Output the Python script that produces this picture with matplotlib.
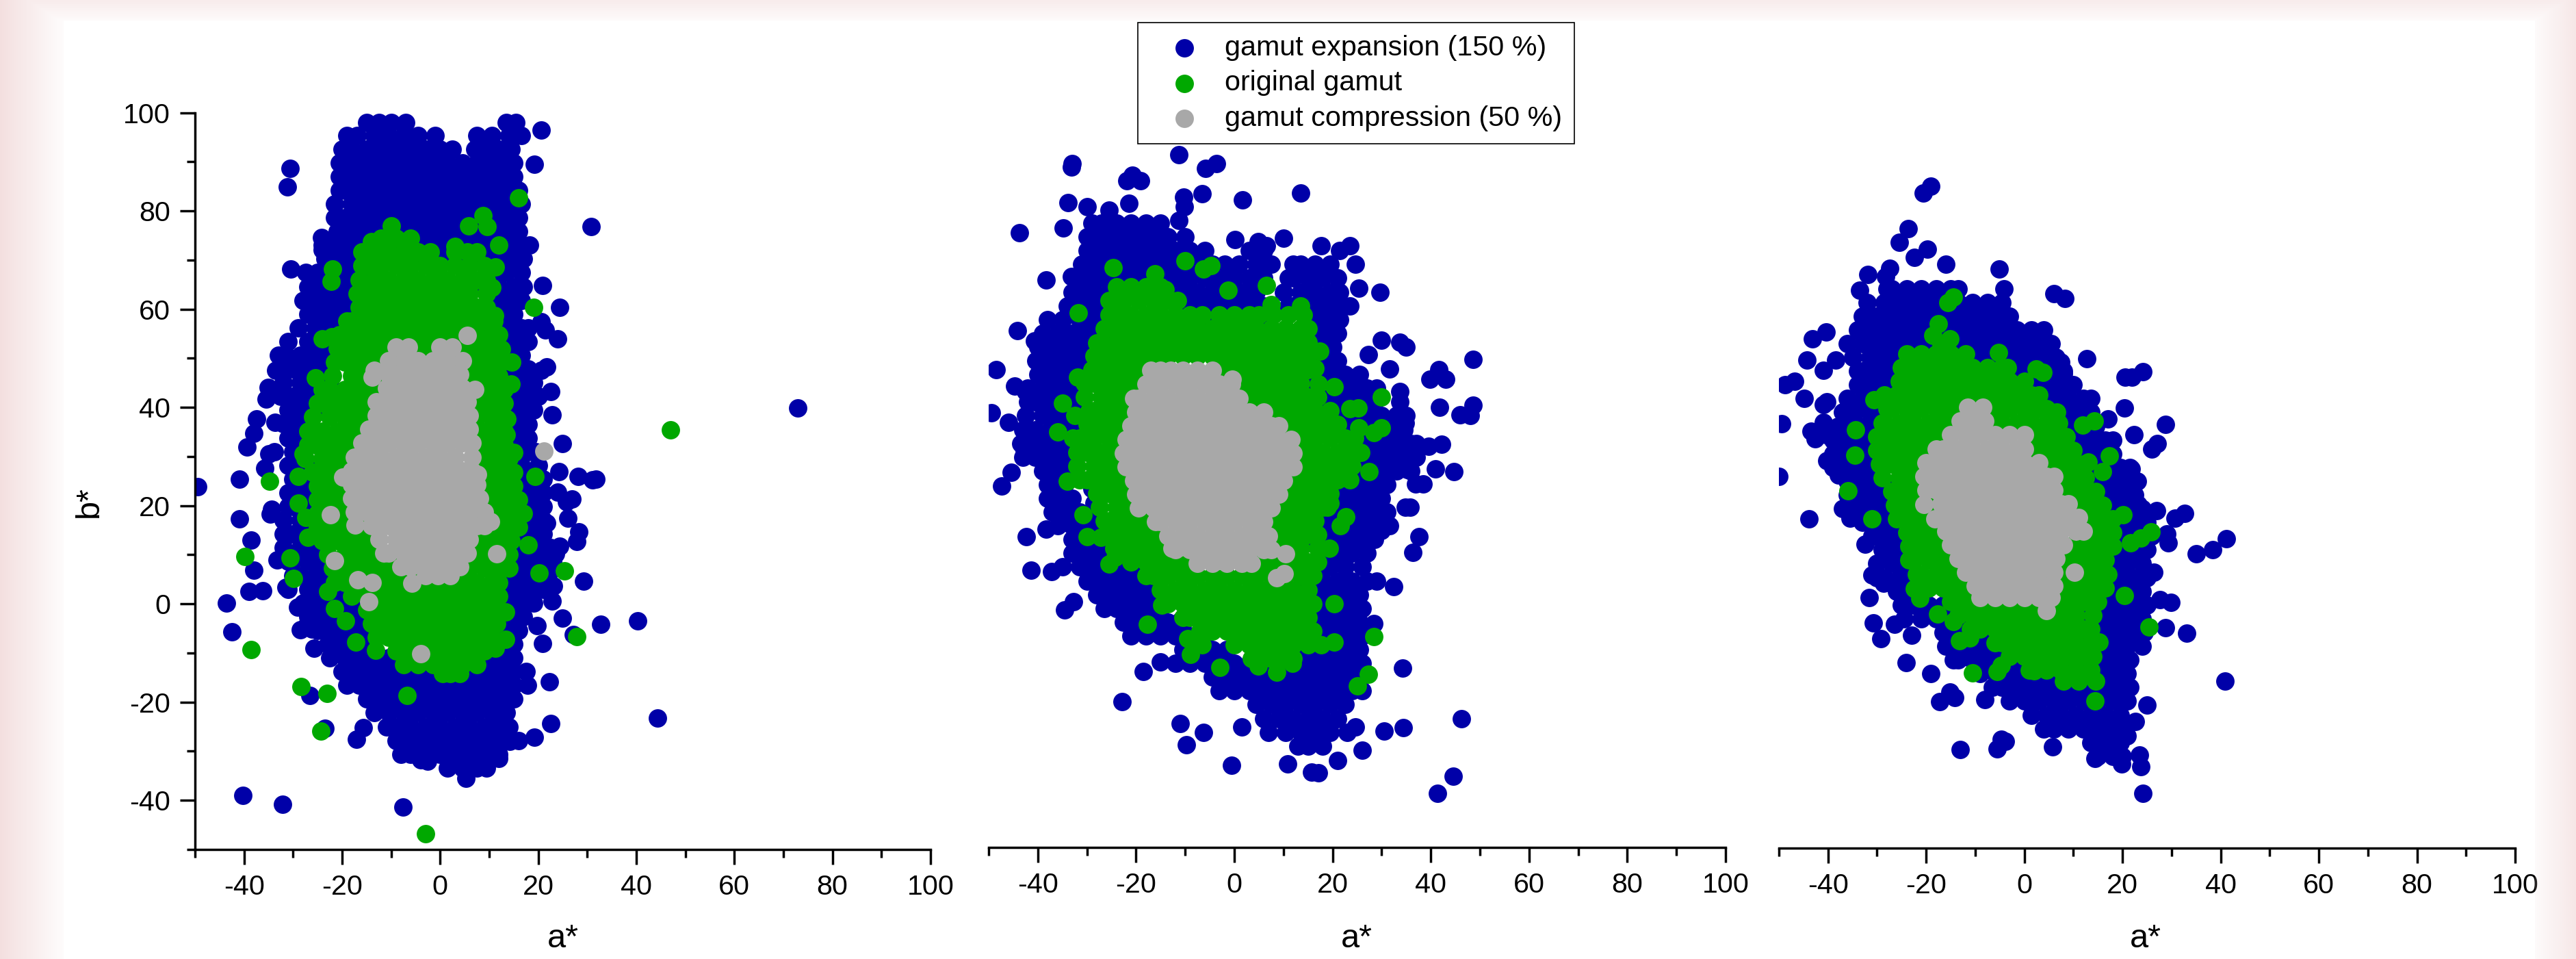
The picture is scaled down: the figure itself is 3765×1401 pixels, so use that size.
import numpy as np
import matplotlib
matplotlib.use("Agg")
import matplotlib.pyplot as plt
from matplotlib.colors import to_rgb
from matplotlib.ticker import MultipleLocator, FixedLocator

plt.rcParams['font.family'] = ['Liberation Sans', 'DejaVu Sans']

W, H = 3765, 1401
LABELS = ["gamut expansion (150 %)", "original gamut", "gamut compression (50 %)"]
COLORS = ["#0000A8", "#00A800", "#A8A8A8"]
X_TICKS = [-40, -20, 0, 20, 40, 60, 80, 100]
Y_TICKS = [-40, -20, 0, 20, 40, 60, 80, 100]

# ---- Panel 1 -------------------------------------------------------------
EXP1_ROWS = {
98: [-15,-12.5,-10,-7,13.5,15.5],
95.4: [-19,-17,-13.5,-10.5,-7.5,-4.5,-1,7.5,10.5,14,16.5],
92.6: [-20,-18,-15,-12,-9,-6,-3,0,2.5,7,9,12,14.5],
89.8: [-20.5,-19.5,-16.5,-13.5,-10.5,-7.5,-4.5,-1.5,1.5,4.5,7.5,10.5,13.5,15],
87: [-20.5,-18,-15,-12,-9,-6,-3,0,3,6,9,12,15],
84.2: [-20.5,-19.5,-16.5,-13.5,-10.5,-7.5,-4.5,-1.5,1.5,4.5,7.5,10.5,13.5,16],
81.4: [-21.5,-18,-15,-12,-9,-6,-3,0,3,6,9,12,15,16.5],
78.6: [-21.5,-19.5,-16.5,-13.5,-10.5,-7.5,-4.5,-1.5,1.5,4.5,7.5,10.5,13.5,16],
75.8: [-21,-18,-15,-12,-9,-6,-3,0,3,6,9,12,15,16],
73: [-24,-22.5,-19.5,-16.5,-13.5,-10.5,-7.5,-4.5,-1.5,1.5,4.5,7.5,10.5,13.5,16.5,18.3],
70.2: [-23.5,-21,-18,-15,-12,-9,-6,-3,0,3,6,9,12,15,17],
67.4: [-25,-22.5,-19.5,-16.5,10.5,13.5,16.5],
64.6: [-27,-24,-21,-18,9,12,15,17],
61.8: [-28,-25.5,-22.5,-19.5,10.5,13.5,16.5],
59: [-27,-24,-21,-18,12,15],
56.2: [-29,-25.5,-22.5,-19.5,10.5,13.5,16.5,18],
53.4: [-31,-27,-24,-21,12,15,18],
50.6: [-33,-31.5,-28.5,-25.5,-22.5,13.5,16.5],
47.8: [-33,-30,-27,-24,12,15,18],
45: [-32,-28.5,-25.5,-22.5,13.5,16.5,19],
42.2: [-32.6,-30,-27,-24,12,15,18,20],
39.4: [-31,-28.5,-25.5,13.5,16.5,19],
36.6: [-31,-30,-27,15,18],
33.8: [-31,-28.5,13.5,16.5,18],
31: [-30,-28,15,18,19.5],
28.2: [-31,-28.5,-27,13.5,16.5,20],
25.4: [-30,-27,15,18,21],
22.6: [-31,-28.5,-25.5,16.5,19.5,21],
19.8: [-31,-30,-27,18,21],
17: [-32,-28.5,-25.5,16.5,19.5,21],
14.2: [-32,-30,-27,-24,15,18,21],
11.4: [-32,-28.5,-25.5,13.5,16.5,19.5,22.5,24],
8.6: [-31,-30,-27,-24,-21,12,15,18,21,23],
5.8: [-30,-28.5,-25.5,-22.5,-19.5,13.5,16.5,19.5,22],
3: [-31,-27,-24,-21,-18,12,15,18,21],
0.2: [-28,-25.5,-22.5,-19.5,-16.5,13.5,16.5,19],
-2.6: [-27,-24,-21,-18,-15,12,15,17],
-5.4: [-25,-22.5,-19.5,-16.5,-13.5,13.5,16],
-8.2: [-23,-21,-18,-15,12,15],
-11: [-22.5,-19.5,-16.5,-13.5,-10.5,-7.5,10.5,13.5,15],
-13.8: [-20,-18,-15,-12,-9,-6,-3,0,3,6,9,12,15],
-16.6: [-19,-16.5,-13.5,-10.5,-7.5,-4.5,-1.5,1.5,4.5,7.5,10.5,13.5,15],
-19.4: [-15,-12,-9,-6,-3,0,3,6,9,12,15],
-22.2: [-13.5,-10.5,-7.5,-4.5,-1.5,1.5,4.5,7.5,10.5,13.5],
-25: [-11,-9,-6,-3,0,3,6,9,12,14],
-27.8: [-9,-7.5,-4.5,-1.5,1.5,4.5,7.5,10.5,13.5,14],
-30.6: [-8,-6,-3,0,3,6,9,12],
-33.4: [1.5,4.5,7.5,9.5],
-35.5: [5.2],
}
EXP1_SINGLE = [(-49.4,23.8),(-30.6,88.7),(-31.1,84.9),(30.8,76.8),(72.9,39.9),(20.6,96.4),(19.2,89.5),
(20.9,64.8),(24.4,60.4),(24,54),(21.4,55.7),(20.6,57.5),(21.7,48.2),(20.6,47.6),(22.5,43.2),(22.8,38.5),
(24.9,32.6),(24.3,26.9),(28.1,26),(31,25.2),(31.8,25.4),(24,22.7),(26.9,21.4),(25.8,20.8),(26.1,17.4),
(21.7,16.4),(28.3,14.6),(27.9,12.7),(24.4,11.7),(21.2,10.2),(23.5,10.2),(29.2,4.6),(23.1,3.6),(22.9,0.6),
(24.9,-2.9),(19.7,-4.4),(20.9,-8.1),(32.7,-4.1),(40.3,-3.4),(27.2,-6.2),(22.3,-15.8),(17.8,-16.5),
(17.5,-13.8),(22.5,-24.3),(19.2,-27.1),(44.3,-23.2),(-40.9,25.4),(-41,17.3),(-38.6,13),(-38,6.8),(-39,2.6),
(-36.2,2.7),(-43.6,0.2),(-42.4,-5.7),(-40.2,-39),(-32.1,-40.8),(-7.6,-41.3),(-26.6,-18.6),(-23.5,-25.3),
(-15.7,-25.2),(-17.1,-27.5),(-25.7,-9.1),(-29.1,-0.7),(-28.5,-5.3),(-27.3,-4.4),(-26.2,-5.1),(-31.4,3.4),
(-33.2,9),(-34.4,19.3),(-34.6,18.3),(-31.2,14),(-35.7,27.6),(-39.4,32),(-38,34.7),(-37.5,37.6),(-35.5,41.7),
(-35.1,44.1),(-35.0,30.6),(-33.8,31),(-33.5,47.6),(-33.7,36.9),(-32,36.7),(-24.2,74.6),(-24,72),(-30.5,68.1),
(-27.4,67.5),(-25,65),(-2.5,-32),(12,-31.5),(-4,-31.8),(14.2,-28),(16,-27.9),
(-23,52),(-23.5,49),(-24.5,47),(-25.5,44),(-27,41),(-28,38),(-28.5,35),(-29,32),(-28.5,29),(-27,26),(-27,23),
(-27,20),(-27,17),(-26,14),(11,57),(12,52),(12.5,47),(13.5,42),(14,38),(14,35),(14,32),(15,28),(15.5,25),(16,21),
(17.5,17),(15.5,13),(14.5,9),(13,6)]
ORIG1_ROWS = {
74.4: [-12,-9,-6],
71.6: [-16,-13.5,-10.5,-7.5,-4.5,-2,3,5.5,7.5],
68.8: [-16,-15,-12,-9,-6,-3,0,3,6,9],
66: [-16.5,-13.5,-10.5,-7.5,-4.5,-1.5,1.5,4.5,7.5,9.5],
63.2: [-17,-15,-12,-9,-6,-3,0,3,6,9.5],
60.4: [-16.5,-13.5,-10.5,-7.5,-4.5,-1.5,1.5,4.5,7.5,9.5],
57.6: [-19,-18,-15,-12,-9,-6,-3,0,3,6,9,11],
54.8: [-20.5,-19.5,-16.5,-13.5,-10.5,-7.5,-4.5,-1.5,1.5,4.5,7.5,10.5,12],
52: [-21,-18,-15,-12,-9,-6,-3,0,3,6,9,12],
49.2: [-21.5,-19.5,-16.5,-13.5,-10.5,4.5,7.5,10.5,12.5],
46.4: [-22,-18,-15,-12,6,9,12],
43.6: [-24,-22.5,-19.5,-16.5,-13.5,7.5,10.5,13],
40.8: [-25,-24,-21,-18,-15,6,9,12,13],
38: [-26,-22.5,-19.5,-16.5,7.5,10.5,13],
35.2: [-27,-24,-21,-18,-15,9,12,13],
32.4: [-27,-25.5,-22.5,-19.5,-16.5,7.5,10.5,13],
29.6: [-27.5,-24,-21,-18,9,12,14],
26.8: [-26,-25.5,-22.5,-19.5,7.5,10.5,13.5,15],
24: [-25,-24,-21,-18,9,12,15],
21.2: [-25,-22.5,-19.5,10.5,13.5,16],
18.4: [-25,-24,-21,-18,9,12,15,17],
15.6: [-25,-22.5,-19.5,-16.5,10.5,13.5,16],
12.8: [-24,-21,-18,-15,9,12,14.5],
10: [-23,-19.5,-16.5,-13.5,-10.5,7.5,10.5,14],
7.2: [-22,-21,-18,-15,-12,-9,6,9,12,14],
4.4: [-21.5,-19.5,-16.5,-13.5,-10.5,-7.5,-4.5,-1.5,1.5,4.5,7.5,10.5,12],
1.6: [-18,-15,-12,-9,-6,-3,0,3,6,9,12],
-1.2: [-15,-13.5,-10.5,-7.5,-4.5,-1.5,1.5,4.5,7.5,10.5,12],
-4: [-14,-12,-9,-6,-3,0,3,6,9,11.5],
-6.8: [-13,-10.5,-7.5,-4.5,-1.5,1.5,4.5,7.5,10.5],
-9.6: [-9,-6,-3,0,3,6,9],
-12.4: [-7.5,-4.5,-1.5,1.5,4.5,7.5],
-14.2: [0.5,2,4],
}
ORIG1_SINGLE = [(16,82.7),(8.8,79),(5.8,77),(9.6,76.8),(12,73),(11.3,68.6),(10.5,64.4),(19,60.3),(11.1,58.7),
(12.5,51.9),(14.6,49.2),(14.5,44.8),(12.8,41),(13.6,37.6),(13.5,34.5),(15,30.8),(19.3,26),(17.9,12),(20.2,6.3),
(25.3,6.7),(27.9,-6.6),(13.4,-1.6),(13.4,-7.2),(11.3,-9.1),(47,35.4),(-22,68.1),(-22.3,65.6),(-22.1,54.4),
(-34.8,24.9),(-28.9,26),(-28.9,20.5),(-24.5,21.4),(-39.8,9.6),(-30.6,9.3),(-29.9,5.2),(-38.5,-9.3),(-28.4,-16.9),
(-23.1,-18.2),(-24.3,-25.9),(-6.7,-18.7),(-3,-46.8),(-19.3,-3.5),(-17.2,-7.8),(-13.1,-9.5),(-27.4,17.6),
(-27,13.6),(-23.6,14.9),(-10,76.9),(-14,73.8),(3,72.8),(-24,54),(-25.5,46),(-28,30.5),(-23,2.5),(-21.5,-1),
(5,50),(5,47),(5.5,44),(7,41),(7.5,38),(8,35),(8,32),(8,29),(8.5,26),(9,23),(9.5,20),(10.5,17),(8,14),(7,11.5),(6,9),
(-12,50),(-12,47),(-12.5,44),(-14,42),(-14.5,39),(-16,36),(-17.5,33),(-19,30),(-19.5,27),(-19.5,24),(-19.5,21),
(-19,18),(-16,15),(-14,12),(-13,9),(-9,6.5)]
COMP1_ROWS = {
52.3: [-9,-6.5,0,2.5],
49.5: [-10.5,-7.5,-4.5,-1.5,1.5,4.5],
46.7: [-10.5,-9,-6,-3,0,3,4],
43.9: [-11,-10.5,-7.5,-4.5,-1.5,1.5,4.5],
41.1: [-13,-12,-9,-6,-3,0,3,5.5],
38.3: [-13,-10.5,-7.5,-4.5,-1.5,1.5,4.5,6],
35.5: [-14.5,-12,-9,-6,-3,0,3,6],
32.7: [-16,-13.5,-10.5,-7.5,-4.5,-1.5,1.5,4.5,6.5],
29.9: [-17.5,-15,-12,-9,-6,-3,0,3,6.5],
27.1: [-18,-16.5,-13.5,-10.5,-7.5,-4.5,-1.5,1.5,4.5,6.5],
24.3: [-18,-15,-12,-9,-6,-3,0,3,6,7.5],
21.5: [-18,-16.5,-13.5,-10.5,-7.5,-4.5,-1.5,1.5,4.5,7.5,8],
18.7: [-17.5,-15,-12,-9,-6,-3,0,3,6,9],
15.9: [-14,-13.5,-10.5,-7.5,-4.5,-1.5,1.5,4.5,7.5,9],
13.1: [-12.5,-9,-6,-3,0,3,6],
10.3: [-11.5,-10.5,-7.5,-4.5,-1.5,1.5,4.5,5.5],
7.5: [-8,-6,-3,0,3,4],
5.7: [-3,-0.5,2],
}
COMP1_SINGLE = [(5.5,54.7),(7,43.6),(21.2,31.1),(-13.5,47.6),(-13.8,46.1),(-19.9,25.8),(-22.4,18.2),(-17.3,16.1),
(-21.6,8.8),(-16.8,4.9),(-13.9,4.4),(-5.7,4.2),(-14.5,0.5),(-3.9,-10.1),(11.6,10.2),(10.3,16.8),(7.6,26.4)]

# ---- Panel 2 -------------------------------------------------------------
EXP2_ROWS = {
77: [-29,-27,-24,-21,-18,-15],
74.2: [-30,-28.5,-25.5,-22.5,-19.5,-16.5,-13.5,-10],
71.4: [-30,-27,-24,-21,-18,-15,-12,-9,-6,3,6],
68.6: [-31,-28.5,-25.5,-22.5,-19.5,-16.5,-13.5,-10.5,-7.5,-4.5,-2,1,4.5,7.5,12,13.5,16.5,19.5],
65.8: [-32,-30,-27,-24,-21,-18,-15,-12,-9,-6,-3,0,3,6,11,12,15,18,21],
63: [-33,-31.5,-28.5,-25.5,-22.5,-19.5,-16.5,-13.5,-10.5,-7.5,-4.5,-1.5,1.5,4.5,10,13.5,16.5,19.5,21.5],
60.2: [-34,-33,-30,-27,-24,-9,-6,-3,0,3,6,11,12,15,18,21,23.5],
57.4: [-38,-35,-31.5,-28.5,-5,6.5,16.5,19.5,21.5],
54.6: [-39,-36,-33,-30,-27,15,18,21],
51.8: [-40,-37.5,-34.5,-31.5,-28.5,16.5,19.5,20],
49: [-40.4,-39,-36,-33,-30,15,18,21],
46.2: [-40,-37.5,-34.5,-31.5,16.5,19.5,22.5,25.5],
43.4: [-42,-39,-36,-33,15,18,21,24,27,29],
40.6: [-42,-40.5,-37.5,-34.5,-31.5,19.5,22.5,25.5,28.5],
37.8: [-42.5,-39,-36,-33,-30,21,24,27,30,33,35],
35: [-43,-40.5,-37.5,-34.5,-31.5,22.5,25.5,28.5,31.5,34.5],
32.2: [-43.5,-42,-39,-36,-33,24,27,30,33,36,37],
29.4: [-43,-40.5,-37.5,-34.5,25.5,28.5,31.5,34.5,37],
26.6: [-39,-36,-33,24,27,30,33,36],
23.8: [-38,-37.5,-34.5,22.5,25.5,28.5,31],
21: [-38,-36,-33,21,24,27,30],
18.2: [-37,-34.5,-31.5,-28.5,19.5,22.5,25.5,28.5,31],
15.4: [-36,-33,-30,18,21,24,27,30],
12.6: [-33,-31.5,-28.5,-25.5,16.5,19.5,22.5,25.5,28.5],
9.8: [-33,-30,-27,-24,18,21,24,27],
7: [-35,-31.5,-28.5,-25.5,-22.5,-19.5,16.5,19.5,22.5,26],
4.2: [-30,-27,-24,-21,-18,15,18,21,24,27,29],
1.4: [-28,-25.5,-22.5,-19.5,-16.5,16.5,19.5,22.5,25.5],
-1.4: [-26.5,-24,-21,-18,-15,15,18,21,24,26],
-4.2: [-22.5,-19.5,-16.5,-13.5,-10.5,16.5,19.5,22.5,25.5],
-7: [-21,-18,-15,-12,-9,-6,15,18,21,24,26],
-9.8: [-10.5,-7.5,-4.5,-1.5,13.5,16.5,19.5,22.5,25.5],
-12.6: [-12,-9,-6,-3,0,3,6,9,12,15,18,21,24,26],
-15.4: [-4.5,-1.5,1.5,4.5,7.5,10.5,13.5,16.5,19.5,22.5,25.5],
-18.2: [-3,0,3,6,9,12,15,18,21,24,26],
-21: [4.5,7.5,10.5,13.5,16.5,19.5,22.5],
-23.8: [6,9,12,15,18,21],
-26.6: [7,10.5,13.5,16.5,19.5],
-29.4: [13,15,18],
}
EXP2_SINGLE = [(-48.5,47.2),(-49.5,38.4),(-43.8,75),(-33.2,88.5),(-33,89.2),(-11.3,91),(-20.7,86.8),(-21.8,85.6),
(-19.1,85.6),(-5.8,88.2),(-3.6,89.2),(-10.3,82.3),(-10.2,80.4),(-11.3,77.6),(-6.5,83),(1.7,81.8),(13.5,83.2),
(-33.8,81.2),(-34.8,76),(-30.0,80.4),(-25.5,79.6),(-21.4,81),(-38.3,65.5),(-33.1,66.1),(-44.1,55.2),(-40.7,53),
(-44.7,43.8),(-46,36.5),(-42.5,42.8),(-41,34.2),(-42.7,30.7),(-45.4,26.3),(-47.3,23.5),(-42.3,13.2),(-38.3,14.7),
(-41.3,6.4),(-37.2,6.1),(-34.5,-1.7),(-32.7,0),(-22.9,-20.4),(-18.5,-14.2),(-15.1,-12.3),(-11,-24.9),(-9.8,-29.1),
(-6.3,-26.6),(-0.6,-33.4),(1.5,-25.5),(10.8,-33.1),(15.7,-34.7),(17.2,-34.9),(21.1,-32.3),(26,-30.3),(30.5,-26.4),
(34.4,-25.7),(24.6,-25.5),(23,-26.7),(46.3,-23.9),(44.6,-35.6),(41.3,-39),(34.2,-13.6),(28.4,-4.5),(32.5,3),
(36.4,10),(37.6,13.2),(31.6,15.4),(30,14.4),(34.8,19.2),(35.8,19.2),(38.5,23.9),(36.9,23.9),(44.7,26.4),(41,27),
(35.3,26.9),(42.2,32),(39.5,31.6),(46,38),(48,37.9),(48.6,40),(41.8,39.5),(48.6,49.3),(41.7,47.2),(39.8,45.3),
(43,45.3),(33.7,52.8),(35,51.8),(29.9,53.2),(31.6,47.4),(27.3,50.3),(33.7,42.8),(33.7,40.6),(34.8,36.3),(32.1,36.3),
(29.7,63),(25.4,63.8),(24.6,68.7),(23.6,72.4),(21.4,71.5),(17.7,72.4),(10,74),(4.9,73.3),(6.5,72.4),(0.1,73.7),
(15.5,56),(16,50),(15.5,45),(18,41),(20.5,39),(22.5,36),(25.5,32),(25,28),(24,25),(20.5,21),(19,18),(18,14),(18,10),
(17,5),(17,0),(17,-5),(14.5,-10),(-27.5,57),(-29,53),(-30,48),(-32,44),(-31.5,40),(-31,36),(-33,31),(-33,27),(-29,23),
(-28.5,20),(-27.5,15),(-25.5,11),(-22,7),(-19,3),(-15.5,0),(-11,-4),(-8,-8),(-2,-11)]
ORIG2_ROWS = {
64: [-24,-21,-18,-15],
61.2: [-25.5,-22.5,-19.5,-16.5,-13.5,-11.5],
58.4: [-25.5,-24,-21,-18,-15,-12,-9,-6.5,-3,0,3,5,8,11,14],
55.6: [-26.5,-25.5,-22.5,-19.5,-16.5,-13.5,-10.5,-7.5,-4.5,-1.5,1.5,4.5,7.5,10.5,13.5,15],
52.8: [-27,-24,-21,-18,-15,-12,-9,-6,-3,0,3,6,9,12,15],
50: [-28.5,-25.5,-22.5,-19.5,-16.5,-13.5,-10.5,-7.5,-4.5,-1.5,1.5,4.5,7.5,10.5,13.5,15],
47.2: [-29,-27,-24,-21,-18,-3,0,3,6,9,12,15],
44.4: [-30.5,-28.5,-25.5,-22.5,1.5,4.5,7.5,10.5,13.5],
41.6: [-30.5,-27,-24,-21,3,6,9,12,15,17],
38.8: [-29.5,-28.5,-25.5,-22.5,7.5,10.5,13.5,16.5,19.5],
36: [-30,-27,-24,9,12,15,18,21],
33.2: [-31.5,-28.5,-25.5,10.5,13.5,16.5,19.5,22.5,24.5],
30.4: [-32,-30,-27,-24,12,15,18,21,24],
27.6: [-32,-28.5,-25.5,-22.5,10.5,13.5,16.5,19.5,22.5,24],
24.8: [-31.5,-30,-27,-24,-21,9,12,15,18,21,23.5],
22: [-28,-25.5,-22.5,10.5,13.5,16.5,19.5],
19.2: [-27.5,-24,-21,9,12,15,18,19],
16.4: [-26.5,-25.5,-22.5,-19.5,-16.5,7.5,10.5,13.5,16.5],
13.6: [-26,-24,-21,-18,-15,9,12,15,17],
10.8: [-24.5,-22.5,-19.5,-16.5,-13.5,7.5,10.5,13.5,17],
8: [-21,-18,-15,-12,-9,6,9,12,15,17],
5.2: [-18,-16.5,-13.5,-10.5,-7.5,-4.5,-1.5,1.5,4.5,7.5,10.5,13.5,16],
2.4: [-15,-12,-9,-6,-3,0,3,6,9,12,15],
-0.4: [-13.5,-10.5,-7.5,-4.5,-1.5,1.5,4.5,7.5,10.5,13.5,16],
-3.2: [-10.5,-9,-6,-3,0,3,6,9,12,15],
-6: [-7,-4.5,-1.5,1.5,4.5,7.5,10.5,13.5,16],
-8.8: [0,3,6,9,12,15],
-11.6: [3.5,4.5,7.5,10.5,12],
}
ORIG2_SINGLE = [(-24.6,68),(-16.2,66.7),(-10,69.4),(-6.3,67.7),(-4.7,68.4),(-1.3,63.4),(6.5,64.4),(-31.8,58.8),(-28,52.6),
(-31.9,45.6),(-34.9,40.3),(-32.5,37.9),(-35.9,34.5),(-32.9,33.2),(-34,24.5),(-30.8,17.7),(-30,13.2),(-27.1,13),
(-25.5,7.6),(-24.2,9),(-17.7,-4.7),(-14.8,-0.7),(-9.5,-7.6),(-6.6,-8.8),(-8.9,-10.7),(-2.9,-13.4),(4.9,-13.2),(8.6,-14.4),
(11.8,-12.6),(25,-17.2),(27.3,-14.8),(28.4,-7.1),(20.4,-0.4),(17.7,-8.8),(20.4,-8.2),(19.3,10.8),(22.7,17.3),(21.6,15.4),
(27.5,26.4),(25.7,30.4),(30,41.6),(25.2,39.4),(23.6,39.2),(25.4,35.4),(30,35.4),(28.4,34.4),(20.4,43.7),(17.4,50.9),(17.2,44.3),
(13.5,60.2),(7.5,60.5),(-14,63.5),(16.5,47.5),(19.5,20),
(-2.5,46),(1,44),(3,41.5),(5,40),(8,37.5),(10.5,35),(13,32),(13.5,29),(11.5,26),(10.5,23),(9,20),(8,17),(8.5,14),(9,11),
(5,7.5),(4.5,6),(-19,46),(-20.5,44),(-22.5,41),(-22.5,38),(-23.5,35),(-24,32),(-24,29),(-22.5,26),(-22,23),(-21.5,20),
(-18,17),(-15.5,14),(-14,11),(-9,8)]
COMP2_ROWS = {
47: [-17,-15,-13,-10.5,-7.5,-4.5],
44.2: [-18,-15,-12,-9,-6,-3,-0.5],
41.4: [-20.5,-19.5,-16.5,-13.5,-10.5,-7.5,-4.5,-1.5,1],
38.6: [-20,-18,-15,-12,-9,-6,-3,0,3,6],
35.8: [-21,-19.5,-16.5,-13.5,-10.5,-7.5,-4.5,-1.5,1.5,4.5,7.5,9],
33: [-22,-21,-18,-15,-12,-9,-6,-3,0,3,6,9,11.5],
30.2: [-22.5,-19.5,-16.5,-13.5,-10.5,-7.5,-4.5,-1.5,1.5,4.5,7.5,10.5,12],
27.4: [-22,-21,-18,-15,-12,-9,-6,-3,0,3,6,9,12],
24.6: [-20.5,-19.5,-16.5,-13.5,-10.5,-7.5,-4.5,-1.5,1.5,4.5,7.5,10],
21.8: [-20,-18,-15,-12,-9,-6,-3,0,3,6,9],
19: [-19.5,-16.5,-13.5,-10.5,-7.5,-4.5,-1.5,1.5,4.5,7.5],
16.2: [-16,-15,-12,-9,-6,-3,0,3,6],
13.4: [-13.5,-10.5,-7.5,-4.5,-1.5,1.5,4.5,7],
10.6: [-12,-9,-6,-3,0,3,6,7.5],
7.8: [-7.5,-4.5,-1.5,1.5,3.5],
}
COMP2_SINGLE = [(10.4,9.7),(8.6,4.9),(10.2,5.7),(-12.7,10.8),(-0.4,45.3)]

# ---- Panel 3 -------------------------------------------------------------
EXP3_ROWS = {
63.9: [-28,-27,-24,-21,-18,-15,-13.5],
61.1: [-32,-28.5,-25.5,-22.5,-19.5,-16.5,-13.5,-10.5,-7.5,-4.5],
58.3: [-33,-30,-27,-24,-21,-18,-15,-12,-9,-6,-3],
55.5: [-34,-31.5,-28.5,-25.5,-22.5,-19.5,-16.5,-13.5,-10.5,-7.5,-4.5,-1.5,1.5,4],
52.7: [-36,-33,-30,-27,-24,-21,-18,-15,-12,-9,-6,-3,0,3,5.5],
49.9: [-35,-31.5,-28.5,-25.5,-10.5,-7.5,-4.5,-1.5,1.5,4.5,6.5],
47.1: [-34,-33,-30,-27,-3,0,3,6,8],
44.3: [-34,-31.5,-28.5,-26,1.5,4.5,7.5,10],
41.5: [-36,-33,-30,-27,3,6,9,12,13.5],
38.7: [-37,-34.5,-31.5,-28.5,4.5,7.5,10.5,13.5],
35.9: [-38,-36,-33,-30,6,9,12,14.5],
33.1: [-39,-37.5,-34.5,-31.5,7.5,10.5,13.5,16.5,18],
30.3: [-39,-36,-33,-30,9,12,15,18],
27.5: [-39,-37.5,-34.5,-31.5,10.5,13.5,16.5,19.5,21.5],
24.7: [-36,-33,-30,12,15,18,21,23],
21.9: [-36,-34.5,-31.5,-28.5,13.5,16.5,19.5,22.5],
19.1: [-37,-36,-33,-30,-27,15,18,21,24],
16.3: [-33,-31.5,-28.5,-25.5,16.5,19.5,22.5,25],
13.5: [-31,-30,-27,-24,18,21,24,26],
10.7: [-29,-28.5,-25.5,16.5,19.5,22.5,25],
7.9: [-30,-27,-24,15,18,21,24],
5.1: [-30,-28.5,-25.5,-22.5,16.5,19.5,22.5,25],
2.3: [-26,-24,-21,15,18,21,24],
-0.5: [-25,-22.5,-19.5,-16.5,13.5,16.5,19.5,22.5,25],
-3.3: [-24.5,-21,-18,-15,-12,12,15,18,21,24],
-6.1: [-16.5,-13.5,-10.5,-7.5,13.5,16.5,19.5,22.5,24.5],
-8.9: [-16,-15,-12,-9,-6,12,15,18,21,24],
-11.7: [-14.5,-13.5,-10.5,-7.5,-4.5,-1.5,13.5,16.5,19.5,21.5],
-14.5: [-9,-6,-3,0,3,6,9,12,15,18,21],
-17.3: [-6.5,-4.5,-1.5,1.5,4.5,7.5,10.5,13.5,16.5,19.5,21.5],
-20.1: [-3,0,3,6,9,12,15,18,21],
-22.9: [1.5,4.5,7.5,10.5,13.5,16.5,19.5],
-25.7: [4,6,9,12,15,18,20],
-28.5: [13.5,16.5,19.5],
-31.3: [15,18,20],
}
EXP3_SINGLE = [(-19,84.7),(-20.6,83.3),(-23.7,76.1),(-25.4,73.3),(-19.8,71.9),(-22.4,70.3),(-16,68.9),(-5.1,67.9),(-27.4,68),
(-28.2,66.3),(-31.9,66.7),(-33.5,63.6),(-4.2,63.8),(6,62.9),(8.3,61.9),(-43.2,53.7),(-40.4,55),(-44.3,49.3),(-38.4,49.4),
(-40.9,47.2),(-48.8,44.3),(-46.8,45),(-44.9,41.6),(-40.9,40.3),(-40.2,40.9),(-49.4,36.4),(-40.9,36.7),(-43.5,34.9),(-42.6,33.3),
(-40.4,34.2),(-40.2,28.8),(-38,30.6),(-37.9,26),(-50,25.7),(-43.8,17),(-35.5,17.2),(-32.5,11.9),(-31,5.6),(-31.6,1),(-28.7,3.9),
(-30.8,-4.2),(-26.5,-4.4),(-29.2,-7.3),(-22.9,-6.7),(-24.1,-12.3),(-19,-14.4),(-17.3,-20.2),(-15.1,-18.3),(-14.2,-19.4),
(-8.1,-19.8),(-13,-29.9),(-5.5,-29.8),(-4.7,-27.8),(-3.8,-28.3),(5.7,-29.4),(14.4,-31.8),(19.8,-32.8),(23.4,-31),(23.7,-33.4),
(24.2,-38.8),(25,-20.9),(22.6,-24.2),(20.9,-27.2),(40.9,-16),(33.1,-6.2),(28.8,-5.1),(29.9,0),(27.7,0.6),(26.4,6.1),(41.2,13),
(38.4,10.8),(35,9.9),(29.1,13.9),(29.3,12.1),(32.7,18.1),(30.7,17.2),(26.9,18.7),(23.2,20),(28.8,36.2),(27.1,32.4),(26,31.3),
(22.3,34.2),(20.4,39.6),(17,37.4),(20.6,45.8),(22,45.8),(24.2,47),(12.7,49.6),(21.8,27.2),(21.5,23.7),
(7.5,49),(8,46.5),(5,43),(6.5,40),(8.5,37),(10,34),(11.5,31),(13,28),(14.5,24),(16.5,21),(19,17),(19.5,13),(19,9),(18,6),(18,2),
(16,-1),(15,-4),(15,-8),(-26,51),(-26.5,47),(-27,44),(-29,41),(-30,38),(-31.5,34),(-31,31),(-30.5,27),(-28,24),(-27.5,20),(-27,17),
(-25,14),(-24.5,11),(-24.5,7),(-23,4),(-22,0),(-16,-1),(-12,-4),(-6,-8),(-1,-11)]
ORIG3_ROWS = {
50.6: [-24,-21,-18,-15,-12],
47.8: [-25,-22.5,-19.5,-16.5,-13.5,-10.5,-7.5,-4.5,-3.5],
45: [-25.5,-24,-21,-18,-15,-12,-9,-6,-3,0],
42.2: [-26,-25.5,-22.5,-19.5,-16.5,-13.5,-10.5,-7.5,-4.5,-1.5,1.5,3],
39.4: [-28,-27,-24,-21,-18,-15,-12,-6,-3,0,3,4.5],
36.6: [-29,-28.5,-25.5,-22.5,-19.5,-16.5,-4.5,-1.5,1.5,4.5,7],
33.8: [-30,-27,-24,-21,-18,3,6,8.5],
31: [-30,-28.5,-25.5,-22.5,-19.5,1.5,4.5,7.5,10],
28.2: [-29.5,-27,-24,-21,6,9,12],
25.4: [-29,-25.5,-22.5,7.5,10.5,12.5],
22.6: [-27,-24,-21,9,12,14.5],
19.8: [-26.5,-25.5,-22.5,-19.5,10.5,13.5,16],
17: [-26,-24,-21,-18,12,15,18],
14.2: [-24,-22.5,-19.5,-16.5,13.5,16.5,18],
11.4: [-23.5,-21,-18,-15,9,12,15,18],
8.6: [-23.5,-22.5,-19.5,-16.5,-13.5,7.5,10.5,13.5,16.5],
5.8: [-22,-21,-18,-15,-12,6,9,12,15,17],
3: [-21,-19.5,-16.5,-13.5,-10.5,7.5,10.5,13.5,16.5],
0.2: [-15,-12,-9,-6,-3,0,3,6,9,12,15],
-2.6: [-13.5,-10.5,-7.5,-4.5,-1.5,1.5,4.5,7.5,10.5,14],
-5.4: [-11,-9,-6,-3,0,3,6,9,12,13.5],
-8.2: [-6,-4.5,-1.5,1.5,4.5,7.5,10.5,13.5],
-11: [-3,0,3,6,9,12,14],
-13.8: [1,4.5,7.5,10.5,13.5],
-16: [8,11,14.5],
}
ORIG3_SINGLE = [(-14.5,62.2),(-15.6,61.1),(-17.5,56.7),(-18.7,54.4),(-15.1,53.7),(-16.9,52.4),(-5.2,50.9),(2.4,47.6),(3.8,46.9),
(-28.6,42.2),(-30.6,41.3),(6.6,38.8),(14.2,37),(11.9,36.1),(-34.4,35.2),(-34.5,30),(-35.9,22.8),(-31,17),(13,28.6),(17.4,29.9),
(15.9,26.7),(25.8,14.4),(23.7,13.1),(21.7,12.2),(20.4,1.4),(25.4,-5),(15.3,-8.1),(14.4,-20.1),(-4.7,-12.8),(-5.5,-14.1),(2,-13.9),
(-10.5,-14.3),(-17.7,-2.4),(-14.5,-3.9),(-13.2,-7.8),(-11.1,-7.2),(-21.3,0.8),(-22.4,2.8),(20.1,17.8),
(-7,38),(-5,36),(1.5,33),(2,31),(4.5,28),(7,25),(7.5,23),(10,20),(12,17),(13,14),(9.5,11),(7.5,8),(7,5),(7,2),
(-13,38),(-14.5,36),(-17,33.5),(-20,31),(-21.5,28),(-22,25),(-21.5,22),(-18.5,19),(-18,16),(-16.5,13),(-15.5,10),(-13.5,7),(-11.5,4),(-10,1)]
COMP3_ROWS = {
39.7: [-11.5,-8.5],
36.9: [-13,-10.5,-8],
34.1: [-15,-12,-9,-6,-3,0],
31.3: [-18,-16.5,-13.5,-10.5,-7.5,-4.5,-1.5,0],
28.5: [-20,-18,-15,-12,-9,-6,-3,0,3],
25.7: [-20.5,-19.5,-16.5,-13.5,-10.5,-7.5,-4.5,-1.5,1.5,4.5,6],
22.9: [-20,-18,-15,-12,-9,-6,-3,0,3,6],
20.1: [-17,-16.5,-13.5,-10.5,-7.5,-4.5,-1.5,1.5,4.5,7.5,9],
17.3: [-16.5,-15,-12,-9,-6,-3,0,3,6,9,11],
14.5: [-16,-13.5,-10.5,-7.5,-4.5,-1.5,1.5,4.5,7.5,10.5,12],
11.7: [-15,-12,-9,-6,-3,0,3,6,8],
8.9: [-13.5,-10.5,-7.5,-4.5,-1.5,1.5,4.5,6.5],
6.1: [-12,-9,-6,-3,0,3,6],
3.3: [-10,-7.5,-4.5,-1.5,1.5,4.5,6],
1: [-9,-6,-3,0,3,5.5],
-1.7: [4.5],
}
COMP3_SINGLE = [(-20.4,20),(-18.2,17),(10.2,6.1)]

PANELS = [
    {"left": 285, "right": 1360, "top": 164.5, "bottom": 1241,
     "series": [(EXP1_ROWS, EXP1_SINGLE), (ORIG1_ROWS, ORIG1_SINGLE), (COMP1_ROWS, COMP1_SINGLE)], "xlabel_x": 823},
    {"left": 1445, "right": 2522, "top": 161, "bottom": 1237.6,
     "series": [(EXP2_ROWS, EXP2_SINGLE), (ORIG2_ROWS, ORIG2_SINGLE), (COMP2_ROWS, COMP2_SINGLE)], "xlabel_x": 1983},
    {"left": 2600, "right": 3676, "top": 162.5, "bottom": 1239,
     "series": [(EXP3_ROWS, EXP3_SINGLE), (ORIG3_ROWS, ORIG3_SINGLE), (COMP3_ROWS, COMP3_SINGLE)], "xlabel_x": 3136},
]


def points(rows, single):
    xs = [a for b, vals in rows.items() for a in vals] + [p[0] for p in single]
    ys = [b for b, vals in rows.items() for _ in vals] + [p[1] for p in single]
    return xs, ys


fig = plt.figure(figsize=(W / 100, H / 100), dpi=100, facecolor="white")
FS = 29.7
LW = 2.5
handles = None
for i, p in enumerate(PANELS):
    ax = fig.add_axes([p["left"] / W, 1 - p["bottom"] / H,
                       (p["right"] - p["left"]) / W, (p["bottom"] - p["top"]) / H])
    ax.set_xlim(-50, 100)
    ax.set_ylim(-50, 100)
    hs = []
    for (rows, single), col, lab in zip(p["series"], COLORS, LABELS):
        xs, ys = points(rows, single)
        hs.append(ax.scatter(xs, ys, s=375, c=col, linewidths=0, label=lab))
    handles = hs
    ax.patch.set_visible(False)
    for s in ("top", "right"):
        ax.spines[s].set_visible(False)
    ax.spines["bottom"].set_linewidth(LW)
    ax.spines["left"].set_linewidth(LW)
    ax.xaxis.set_major_locator(FixedLocator(X_TICKS))
    ax.xaxis.set_minor_locator(MultipleLocator(10))
    ax.tick_params(axis="x", which="major", length=16, width=LW, labelsize=FS, pad=10)
    ax.tick_params(axis="x", which="minor", length=8.5, width=LW)
    ax.set_xticklabels([str(t) for t in X_TICKS])
    fig.text(p["xlabel_x"] / W, 1 - 1372 / H, "a*", fontsize=35, ha="center", va="center")
    if i == 0:
        ax.yaxis.set_major_locator(FixedLocator(Y_TICKS))
        ax.yaxis.set_minor_locator(MultipleLocator(10))
        ax.tick_params(axis="y", which="major", length=16, width=LW, labelsize=FS, pad=10)
        ax.tick_params(axis="y", which="minor", length=8.5, width=LW)
        ax.set_yticklabels([str(t) for t in Y_TICKS])
        fig.text(130 / W, 1 - 733 / H, "b*", fontsize=35, ha="center", va="center", rotation=90)
    else:
        ax.spines["left"].set_visible(False)
        ax.yaxis.set_visible(False)

# pale pink frame around the white sheet, laid over everything so it trims the last label
fh, fw = H // 3, W // 3
yy, xx = np.mgrid[0:fh, 0:fw]
px, py = xx * 3.0, yy * 3.0
sheet = (px >= 92) & (px < 3703) & (py >= 29)
left = 0.95 * np.clip(1 - px / 100.0, 0, 1)
right = 0.75 * np.clip((px - 3690) / 75.0, 0, 1)
top = 0.45 * np.clip(1 - py / 29.0, 0, 1) + 0.12
alpha = np.maximum(np.maximum(left, right), top)
alpha[sheet] = 0
frame = np.zeros((fh, fw, 4))
frame[..., :3] = to_rgb("#F3DEDE")
frame[..., 3] = alpha
ov = fig.add_axes([0, 0, 1, 1], zorder=10)
ov.imshow(frame, aspect="auto", interpolation="nearest")
ov.axis("off")

leg = fig.legend(handles=handles, labels=LABELS, loc="upper left",
                 bbox_to_anchor=(1663 / W, 1 - 33 / H), bbox_transform=fig.transFigure,
                 fontsize=FS, frameon=True, fancybox=False, framealpha=1, edgecolor="black",
                 borderpad=0.44, handlelength=2.42, handletextpad=0.22, labelspacing=0.32,
                 borderaxespad=0, scatterpoints=1)
leg.get_frame().set_linewidth(1.2)
leg.set_zorder(20)

fig.savefig("out.png", dpi=100)
